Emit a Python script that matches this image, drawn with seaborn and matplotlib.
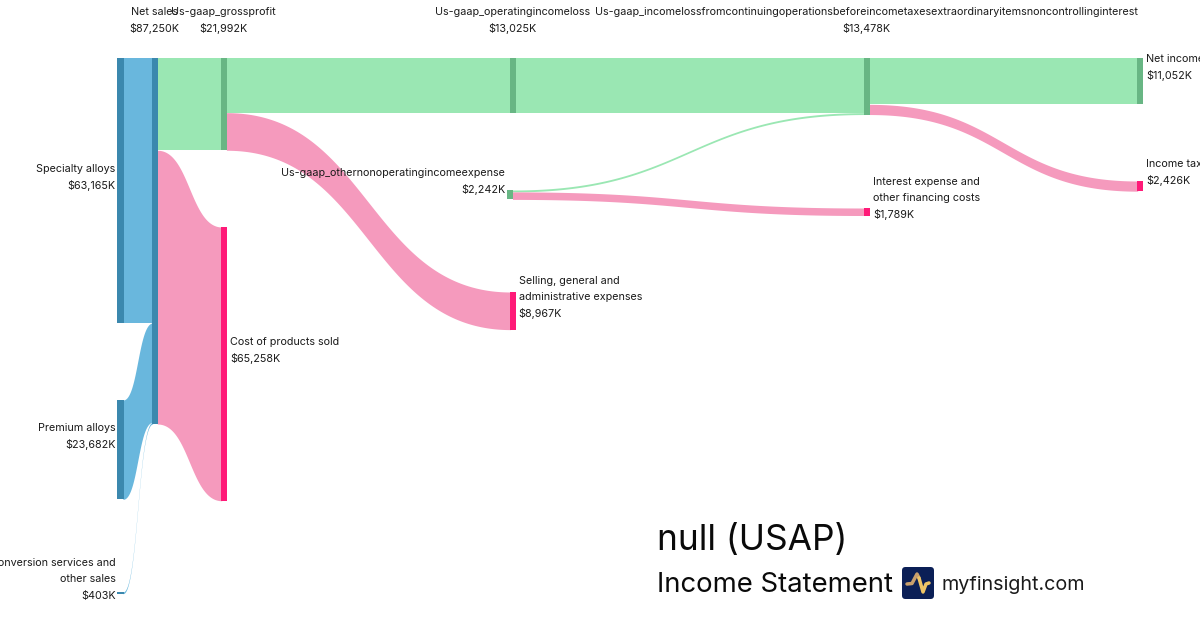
import numpy as np
import pandas as pd
import matplotlib
matplotlib.use("Agg")
import matplotlib.pyplot as plt
from matplotlib.patches import FancyBboxPatch
import seaborn as sns

# Data ---------------------------------------------------------------
node_names = ["Specialty alloys", "Premium alloys", "Conversion services and\nother sales",
              "Net sales", "Us-gaap_grossprofit", "Cost of products sold",
              "Us-gaap_operatingincomeloss", "Us-gaap_othernonoperatingincomeexpense",
              "Selling, general and\nadministrative expenses",
              "Us-gaap_incomelossfromcontinuingoperationsbeforeincometaxesextraordinaryitemsnoncontrollinginterest",
              "Interest expense and\nother financing costs", "Net income", "Income tax"]
node_values = [63165, 23682, 403, 87250, 21992, 65258, 13025, 2242, 8967, 13478, 1789, 11052, 2426]
node_kinds = ["rev", "rev", "rev", "rev", "pos", "neg", "pos", "pos", "neg", "pos", "neg", "pos", "neg"]

link_source = [0, 1, 2, 3, 3, 4, 4, 6, 7, 7, 9, 9]
link_target = [3, 3, 3, 4, 5, 6, 8, 9, 9, 10, 11, 12]
link_value = [63165, 23682, 403, 21992, 65258, 13025, 8967, 13025, 453, 1789, 11052, 2426]
link_kinds = ["rev", "rev", "rev", "pos", "neg", "pos", "neg", "pos", "pos", "neg", "pos", "neg"]

# Layout (pixel space) -----------------------------------------------
node_left = [117.4, 117.4, 117.4, 151.8, 220.9, 220.9, 509.7, 507, 509.7, 864, 864, 1136.9, 1136.9]
node_top = [58, 400, 592, 58, 58, 227, 58, 190, 292, 58, 208, 58, 181]
label_side = ["L", "L", "L", "T", "T", "R", "T", "L", "R", "T", "R", "R", "R"]
SCALE = 366.0 / 87250
NODE_W = 6.3
node_col = {"rev": "#3b88ae", "pos": "#68b684", "neg": "#ff1a78"}
link_col = {"rev": "#69b7dd", "pos": "#9ae7b3", "neg": "#f59abd"}

sns.set_theme(style="white")
plt.rcParams["font.family"] = ["Inter", "DejaVu Sans"]
fig = plt.figure(figsize=(12, 6.3), dpi=100, facecolor="white")
ax = fig.add_axes([0, 0, 1, 1])

# Links
src_off = [0.0] * len(node_values)
dst_off = [0.0] * len(node_values)
for s, t, v, k in zip(link_source, link_target, link_value, link_kinds):
    h = v * SCALE
    y0 = node_top[s] + src_off[s]
    y1 = node_top[t] + dst_off[t]
    src_off[s] += h
    dst_off[t] += h
    x0 = node_left[s] + NODE_W - 0.8
    x1 = node_left[t] + 0.8
    u = np.linspace(0, 1, 200)
    xm = (x0 + x1) / 2
    bx = (1-u)**3*x0 + 3*(1-u)**2*u*xm + 3*(1-u)*u**2*xm + u**3*x1
    by = (1-u)**3*y0 + 3*(1-u)**2*u*y0 + 3*(1-u)*u**2*y1 + u**3*y1
    ax.fill_between(bx, by, by + h, color=link_col[k], lw=0, zorder=1)

# Nodes
nodes = pd.DataFrame({"name": node_names, "value": node_values, "kind": node_kinds,
                      "left": node_left, "top": node_top})
nodes["h"] = nodes["value"] * SCALE
for _, n in nodes.iterrows():
    sns.barplot(x=[n["left"] + NODE_W / 2], y=[n["h"]], bottom=n["top"], native_scale=True,
                width=NODE_W, color=node_col[n["kind"]], saturation=1, linewidth=0,
                errorbar=None, ax=ax, zorder=2)

# Labels
FS = 7.75
LH = 16.5
for name, v, side, left, top, h in zip(node_names, node_values, label_side, node_left, node_top, nodes["h"]):
    lines = name.split("\n") + [f"${v:,}K"]
    if side == "T":
        xc = left + NODE_W / 2 - 0.5
        ys = [12, 29]
        ha = "center"
    elif side == "L":
        xc = left - 1.7
        ha = "right"
        mid = top + h / 2 - 13.5
        ys = [mid + (i - (len(lines) - 1) / 2) * LH for i in range(len(lines))]
    else:
        xc = left + NODE_W + 2.8
        ha = "left"
        mid = top + h / 2 - 13.5
        ys = [mid + (i - (len(lines) - 1) / 2) * LH for i in range(len(lines))]
    for ln, y in zip(lines, ys):
        ax.text(xc, y, ln, ha=ha, va="center", fontsize=FS, color="#1a1a1a", zorder=3)

# Title block
ax.text(657, 540.5, "null (USAP)", fontsize=25.4, color="#0a0a0a", va="center", ha="left")
ax.text(657, 585.5, "Income Statement", fontsize=19.8, color="#0a0a0a", va="center", ha="left")
ax.text(941.5, 585, "myfinsight.com", fontsize=14.2, color="#1a1a1a", va="center", ha="left")
ax.add_patch(FancyBboxPatch((902, 567), 32, 32, boxstyle="round,pad=0,rounding_size=3.5",
                            fc="#0b1f56", ec="none", zorder=3))
ax.plot([907, 912, 917, 919], [584, 583.5, 574, 578], color="#c9a06c", lw=2.5, zorder=4,
        solid_capstyle="round", solid_joinstyle="round")
ax.plot([919, 923, 926, 929], [578, 592, 584, 583], color="#efc566", lw=2.5, zorder=4,
        solid_capstyle="round", solid_joinstyle="round")

ax.set_xlim(0, 1200)
ax.set_ylim(630, 0)
ax.axis("off")
fig.savefig("out.png", dpi=100, facecolor="white")
